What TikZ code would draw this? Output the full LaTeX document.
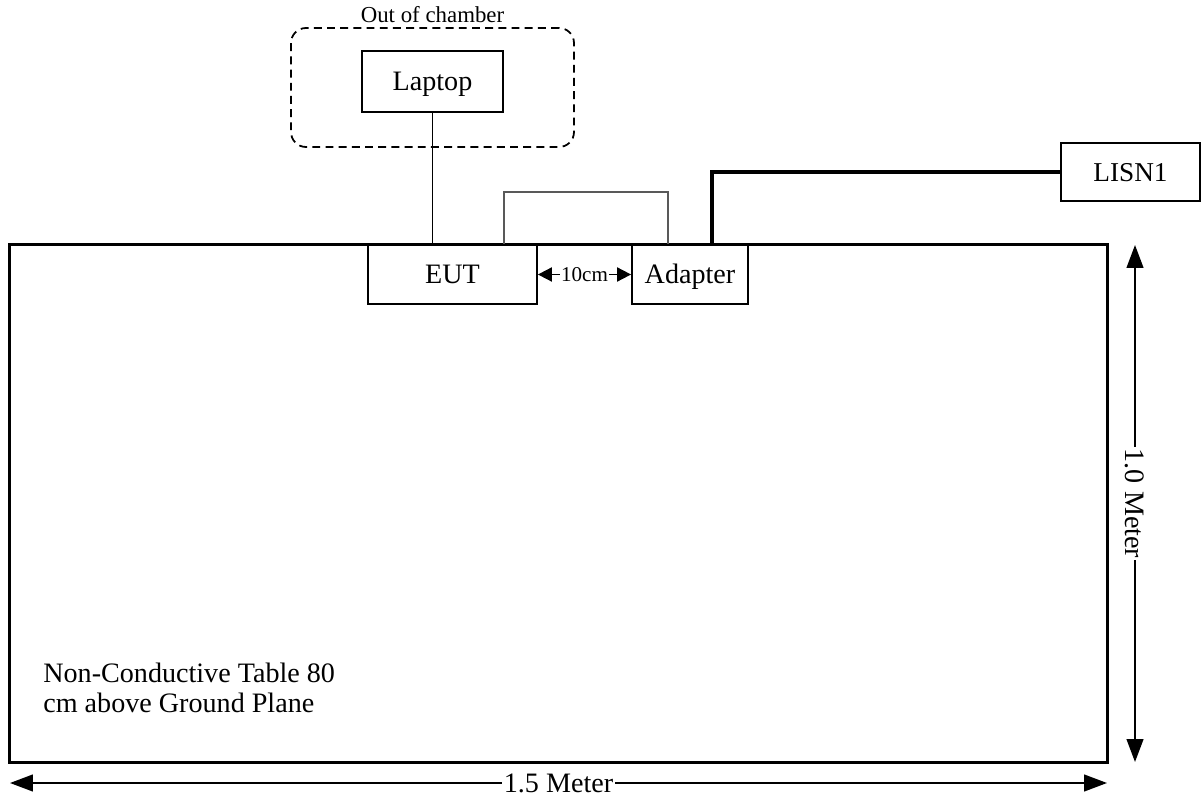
\documentclass[tikz,border=0pt]{standalone}
\usepackage{fontspec}
\setmainfont{Liberation Serif}
\usepackage{tikz}
\usetikzlibrary{arrows.meta, positioning, calc}

\tikzset{
  unit/.style={draw, line width=1pt, inner sep=0pt, text height=10.5pt, text depth=0pt,
    font=\fontsize{16}{17}\selectfont},
  chamberbox/.style={draw, line width=1pt, dash pattern=on 4.5pt off 3pt, rounded corners=3mm, inner sep=0pt},
  tablebox/.style={draw, line width=1.7pt, inner sep=0pt},
  lan/.style={line width=0.6pt},
  dccable/.style={line width=0.8pt, gray!70!black},
  mains/.style={line width=2.2pt},
  dimline/.style={line width=1.1pt, {Triangle[length=13pt,width=9.5pt]}-{Triangle[length=13pt,width=9.5pt]}},
  gapline/.style={line width=1pt, {Triangle[length=8pt,width=8pt]}-{Triangle[length=8pt,width=8pt]}},
  dimlabel/.style={fill=white, inner sep=1pt, font=\fontsize{16}{17}\selectfont}
}

\begin{document}
\begin{tikzpicture}[x=0.2mm, y=-0.2mm]

  \useasboundingbox (0,0) rectangle (1202,801);

  %% Table
  \node[tablebox, minimum width=219.4mm, minimum height=103.4mm] (table) at (558.5,503.5) {};
  \node[font=\fontsize{16}{17}\selectfont, align=left, anchor=north west, inner sep=0pt] (tabletxt) at (43,663)
    {Non-Conductive Table 80\\cm above Ground Plane};

  %% Out of chamber
  \node[chamberbox, minimum width=56.6mm, minimum height=23.8mm] (chamber) at (432.5,87.5) {};
  \node[font=\fontsize{13}{14}\selectfont, anchor=base] (chambertxt) at (432.5,23) {Out of chamber};
  \node[unit, minimum width=28.2mm, minimum height=12.2mm] (laptop) at (432.5,81.5) {Laptop};

  %% Units on the table
  \node[unit, minimum width=33.8mm, minimum height=11.8mm] (eut) at (452.5,274.5) {EUT};
  \node[unit, minimum width=23.2mm, minimum height=11.8mm] (adapter) at (690,274.5) {Adapter};
  \node[unit, minimum width=27.8mm, minimum height=11.6mm, font=\fontsize{15.5}{17}\selectfont] (lisn) at (1130.5,172) {LISN1};

  %% Cables
  \draw[lan] (laptop.south) -- (laptop.south |- eut.north);
  \draw[dccable] ($(eut.north east)+(-34,0)$) |- ($(adapter.north west)+(37,-52)$)
    -- ($(adapter.north west)+(37,0)$);
  \draw[mains] ($(adapter.north west)+(81,0)$) |- (lisn.west);
  \draw[gapline] (eut.east) -- node[fill=white, inner sep=0.5pt, font=\fontsize{12}{13}\selectfont] {10cm} (adapter.west);

  %% Dimensions
  \coordinate (wl) at (10,783);
  \coordinate (wr) at (1107,783);
  \coordinate (ht) at (1135,245);
  \coordinate (hb) at (1135,762);
  \draw[dimline] (wl) -- node[dimlabel] {1.5 Meter} (wr);
  \draw[dimline] (ht) -- node[dimlabel, rotate=-90] {1.0 Meter} (hb);

\end{tikzpicture}
\end{document}
